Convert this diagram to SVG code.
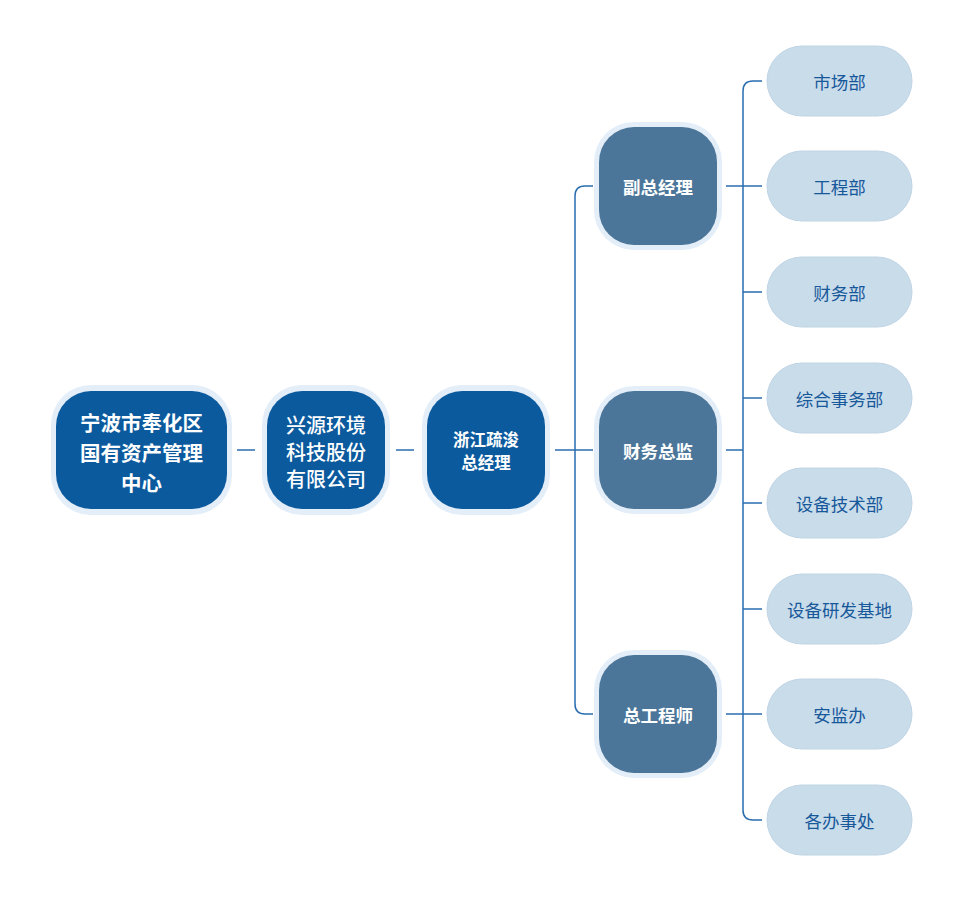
<svg xmlns="http://www.w3.org/2000/svg" width="955" height="904" viewBox="0 0 955 904">
<style>
.halo{fill:#e3eef9}
.n1{fill:#0b5a9e}
.n2{fill:#4b7699}
.pill{fill:#c9dcea;stroke:#bfd4e6;stroke-width:1}
.t{font-family:"Noto Sans CJK SC","Liberation Sans",sans-serif;text-anchor:middle;dominant-baseline:central}
.tw{fill:#ffffff}
.tb{fill:#17589a;font-size:17.5px;font-weight:normal}
.c{fill:none;stroke:#2a6db0;stroke-width:1.5}
</style>
<rect width="955" height="904" fill="#ffffff"/>
<g id="connectors">
<path class="c" d="M237 450H255"/>
<path class="c" d="M396 450H414"/>
<path class="c" d="M555 450H593"/>
<path class="c" d="M593 186H585Q575 186 575 196V704Q575 714 585 714H593"/>
<path class="c" d="M726 186H762"/>
<path class="c" d="M726 450H743"/>
<path class="c" d="M726 714H762"/>
<path class="c" d="M762 81H753Q743 81 743 91V810Q743 820 753 820H762"/>
<path class="c" d="M743 292H762"/>
<path class="c" d="M743 398H762"/>
<path class="c" d="M743 503H762"/>
<path class="c" d="M743 609H762"/>
</g>
<g id="node-fenghua">
<rect class="halo" x="51" y="385" width="181" height="130" rx="40"/>
<rect class="n1" x="56" y="391" width="171" height="118" rx="35"/>
<text class="t tw" x="141.5" font-size="20.5" font-weight="bold"><tspan x="141.5" y="422">宁波市奉化区</tspan><tspan x="141.5" y="452">国有资产管理</tspan><tspan x="141.5" y="482">中心</tspan></text>
</g>
<g id="node-xingyuan">
<rect class="halo" x="262" y="385" width="128" height="130" rx="40"/>
<rect class="n1" x="267" y="391" width="118" height="118" rx="35"/>
<text class="t tw" x="326" font-size="20" font-weight="500"><tspan x="326" y="424">兴源环境</tspan><tspan x="326" y="451">科技股份</tspan><tspan x="326" y="478">有限公司</tspan></text>
</g>
<g id="node-zhejiang">
<rect class="halo" x="422" y="385" width="128" height="130" rx="40"/>
<rect class="n1" x="427" y="391" width="118" height="118" rx="35"/>
<text class="t tw" x="486" font-size="16.5" font-weight="bold"><tspan x="486" y="438.5">浙江疏浚</tspan><tspan x="486" y="462">总经理</tspan></text>
</g>
<g id="node-fuzong">
<rect class="halo" x="594" y="122" width="128" height="128" rx="40"/>
<rect class="n2" x="599" y="127" width="118" height="118" rx="35"/>
<text class="t tw" x="658" y="186" font-size="17.5" font-weight="bold">副总经理</text>
</g>
<g id="node-caiwuzongjian">
<rect class="halo" x="594" y="386" width="128" height="128" rx="40"/>
<rect class="n2" x="599" y="391" width="118" height="118" rx="35"/>
<text class="t tw" x="658" y="450" font-size="17.5" font-weight="bold">财务总监</text>
</g>
<g id="node-zonggong">
<rect class="halo" x="594" y="650" width="128" height="128" rx="40"/>
<rect class="n2" x="599" y="655" width="118" height="118" rx="35"/>
<text class="t tw" x="658" y="714" font-size="17.5" font-weight="bold">总工程师</text>
</g>
<g id="dept-shichang"><rect class="pill" x="767" y="46" width="145" height="70" rx="35"/><text class="t tb" x="839.5" y="81">市场部</text></g>
<g id="dept-gongcheng"><rect class="pill" x="767" y="151" width="145" height="70" rx="35"/><text class="t tb" x="839.5" y="186">工程部</text></g>
<g id="dept-caiwu"><rect class="pill" x="767" y="257" width="145" height="70" rx="35"/><text class="t tb" x="839.5" y="292">财务部</text></g>
<g id="dept-zonghe"><rect class="pill" x="767" y="363" width="145" height="70" rx="35"/><text class="t tb" x="839.5" y="398">综合事务部</text></g>
<g id="dept-shebeijishu"><rect class="pill" x="767" y="468" width="145" height="70" rx="35"/><text class="t tb" x="839.5" y="503">设备技术部</text></g>
<g id="dept-shebeiyanfa"><rect class="pill" x="767" y="574" width="145" height="70" rx="35"/><text class="t tb" x="839.5" y="609">设备研发基地</text></g>
<g id="dept-anjian"><rect class="pill" x="767" y="679" width="145" height="70" rx="35"/><text class="t tb" x="839.5" y="714">安监办</text></g>
<g id="dept-banshichu"><rect class="pill" x="767" y="785" width="145" height="70" rx="35"/><text class="t tb" x="839.5" y="820">各办事处</text></g>
</svg>
